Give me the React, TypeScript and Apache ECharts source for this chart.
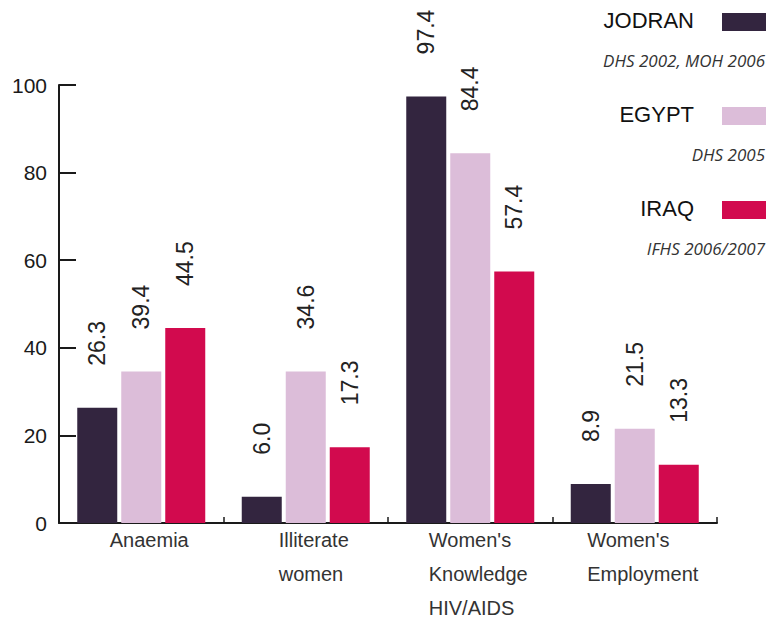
import React, { useEffect, useRef } from "react";
import * as echarts from "echarts";

const categories = ["Anaemia", "Illiterate\nwomen", "Women's\nKnowledge\nHIV/AIDS", "Women's\nEmployment"];
const seriesNames = ["JODRAN", "EGYPT", "IRAQ"];
const sources = ["DHS 2002, MOH 2006", "DHS 2005", "IFHS 2006/2007"];
const colors = ["#33253f", "#dcbdd9", "#d20a4e"];

// bar heights as drawn in the picture
const jordanValues = [26.3, 6.0, 97.4, 8.9];
const egyptValues = [34.6, 34.6, 84.4, 21.5];
const iraqValues = [44.5, 17.3, 57.4, 13.3];

// value labels as printed
const jordanLabels = ["26.3", "6.0", "97.4", "8.9"];
const egyptLabels = ["39.4", "34.6", "84.4", "21.5"];
const iraqLabels = ["44.5", "17.3", "57.4", "13.3"];

const yMin = 0;
const yMax = 100;
const yInterval = 20;

const FONT = "'Liberation Sans', Arial, Helvetica, sans-serif";
const CAT_FONT_SIZE = 20;

export default function App() {
  const ref = useRef<HTMLDivElement>(null);

  useEffect(() => {
    if (!ref.current) return;
    const chart = echarts.init(ref.current, undefined, { renderer: "svg" });
    const values = [jordanValues, egyptValues, iraqValues];
    const labels = [jordanLabels, egyptLabels, iraqLabels];

    const series = seriesNames.map((name, s) => ({
      name,
      type: "bar",
      data: values[s],
      barWidth: 40,
      barGap: "10%",
      itemStyle: { color: colors[s] },
      label: {
        show: true,
        position: "top",
        rotate: 90,
        align: "left",
        verticalAlign: "middle",
        distance: 42,
        fontFamily: FONT,
        fontSize: 23,
        color: "#222",
        formatter: (p: any) => labels[s][p.dataIndex],
      },
    }));

    const legendGraphics: any[] = [];
    seriesNames.forEach((name, i) => {
      const cy = 21 + i * 94;
      legendGraphics.push({
        type: "text",
        right: 72,
        top: cy - 12,
        style: { text: name, fontFamily: FONT, fontSize: 22, fill: "#111" },
      });
      legendGraphics.push({
        type: "rect",
        shape: { x: 722, y: cy - 8, width: 44, height: 18 },
        style: { fill: colors[i] },
      });
      legendGraphics.push({
        type: "text",
        right: 1,
        top: cy + 31,
        style: {
          text: sources[i],
          fontFamily: "'Open Sans', sans-serif",
          fontStyle: "italic",
          fontSize: 17,
          fill: "#333",
        },
      });
    });

    chart.setOption({
      animation: false,
      grid: { left: 59, right: 49, top: 85, bottom: 95, containLabel: false },
      xAxis: {
        type: "category",
        data: categories,
        axisLine: { lineStyle: { color: "#1a1a1a", width: 2 } },
        axisTick: { show: true, inside: true, length: 6, lineStyle: { color: "#1a1a1a", width: 1.5 } },
        axisLabel: { show: false },
      },
      yAxis: {
        type: "value",
        min: yMin,
        max: yMax,
        interval: yInterval,
        splitLine: { show: false },
        axisLine: { show: true, lineStyle: { color: "#1a1a1a", width: 2 } },
        axisTick: { show: true, inside: true, length: 17, lineStyle: { color: "#1a1a1a", width: 2 } },
        axisLabel: { margin: 12, color: "#1a1a1a", fontFamily: FONT, fontSize: 21 },
      },
      graphic: legendGraphics,
      series,
    });

    // category labels: left-aligned lines in a block centred on each category
    const canvas = document.createElement("canvas");
    const ctx = canvas.getContext("2d");
    if (ctx) ctx.font = `${CAT_FONT_SIZE}px 'Liberation Sans'`;
    const baseY = chart.convertToPixel({ yAxisIndex: 0 }, yMin) as number;
    const catGraphics = categories.map((cat, i) => {
      const cx = chart.convertToPixel({ xAxisIndex: 0 }, i) as number;
      const lines = cat.split("\n");
      const w = Math.max(...lines.map((l) => (ctx ? ctx.measureText(l).width : l.length * 10)));
      return {
        type: "text",
        x: cx - w / 2 + 8,
        y: baseY,
        style: {
          text: cat,
          fontFamily: FONT,
          fontSize: CAT_FONT_SIZE,
          lineHeight: 34,
          fill: "#333",
          align: "left",
          verticalAlign: "top",
        },
      };
    });
    chart.setOption({ graphic: [...legendGraphics, ...catGraphics] });

    return () => chart.dispose();
  }, []);

  return (
    <div
      ref={ref}
      style={{ position: "fixed", left: 0, top: 0, width: 766, height: 618, background: "#fff" }}
    />
  );
}
